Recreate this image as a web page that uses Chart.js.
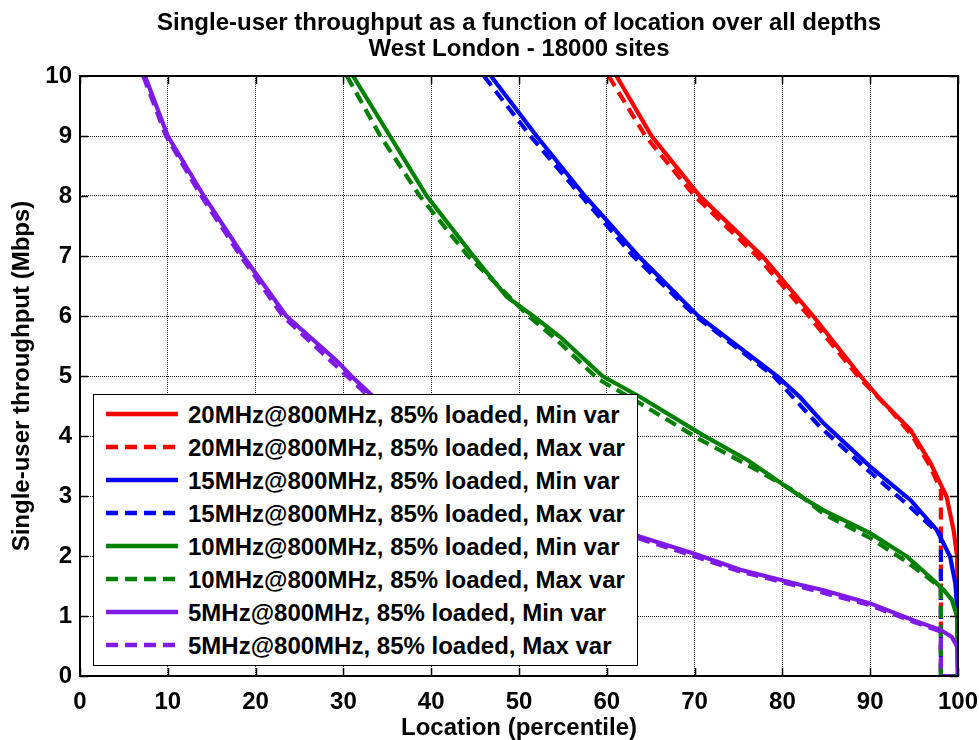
<!DOCTYPE html>
<html><head><meta charset="utf-8">
<script src="https://cdn.jsdelivr.net/npm/chart.js@4.4.0/dist/chart.umd.min.js"></script>
<style>
html,body{margin:0;padding:0;background:#fff;}
#wrap{position:relative;width:979px;height:740px;}
#legend{position:absolute;left:93px;top:394px;width:545px;height:272px;box-sizing:border-box;border:1.5px solid #000;background:#fff;font:bold 24px "Liberation Sans",Arial,Helvetica,sans-serif;color:#000;}
.row{position:absolute;left:0;height:33px;white-space:nowrap;}
.row svg{position:absolute;left:12px;top:11px;}
.row span{position:absolute;left:94px;line-height:33px;top:0;}
</style></head>
<body><div id="wrap"><canvas id="c" width="979" height="740"></canvas><div id="legend"></div></div>
<script>
// ---- data ----
const titleLines = ['Single-user throughput as a function of location over all depths', 'West London - 18000 sites'];
const xTitle = 'Location (percentile)';
const yTitle = 'Single-user throughput (Mbps)';
const xTicks = [0, 10, 20, 30, 40, 50, 60, 70, 80, 90, 100];
const yTicks = [0, 1, 2, 3, 4, 5, 6, 7, 8, 9, 10];
const seriesLabels = [
  '20MHz@800MHz, 85% loaded, Min var',
  '20MHz@800MHz, 85% loaded, Max var',
  '15MHz@800MHz, 85% loaded, Min var',
  '15MHz@800MHz, 85% loaded, Max var',
  '10MHz@800MHz, 85% loaded, Min var',
  '10MHz@800MHz, 85% loaded, Max var',
  '5MHz@800MHz, 85% loaded, Min var',
  '5MHz@800MHz, 85% loaded, Max var'
];
// location (percentile) and throughput (Mbps) per series
const loc20Min = [61.1, 65.1, 70.6, 77.7, 83.5, 88.9, 91.1, 94.6, 96.9, 98.7, 99.5, 99.9, 100];
const thr20Min = [10, 9, 8, 7, 6, 5, 4.62, 4.1, 3.54, 2.99, 2.43, 1.99, 0];
const loc20Max = [60.2, 64.4, 70.0, 77.1, 83.0, 88.6, 92.3, 94.8, 96.8, 98.05, 98.05, 100];
const thr20Max = [10, 9, 8, 7, 6, 5, 4.43, 4.0, 3.5, 3.1, 0, 0];
const loc15Min = [46.8, 52.0, 57.5, 63.6, 70.4, 79.4, 82.0, 84.7, 90.0, 94.6, 97.6, 99.1, 99.7, 99.95, 100];
const thr15Min = [10, 9, 8, 7, 6, 5, 4.65, 4.21, 3.49, 2.93, 2.43, 1.99, 1.54, 1.0, 0];
const loc15Max = [46.0, 51.3, 57.1, 63.0, 70.1, 79.0, 84.3, 89.8, 94.3, 96.9, 98.05, 98.05, 100];
const thr15Max = [10, 9, 8, 7, 6, 5, 4.15, 3.42, 2.85, 2.5, 2.35, 0, 0];
const loc10Min = [31.1, 35.3, 39.5, 44.8, 48.6, 51.6, 54.7, 59.5, 63.8, 71.0, 76.0, 82.0, 84.7, 90.0, 94.2, 96.8, 98.4, 99.3, 99.9, 100];
const thr10Min = [10, 9, 8, 7, 6.32, 6, 5.65, 5.0, 4.65, 4.01, 3.6, 3.0, 2.76, 2.38, 1.99, 1.65, 1.43, 1.27, 0.99, 0];
const loc10Max = [30.4, 34.2, 38.7, 44.2, 51.1, 54.3, 59.0, 63.5, 70.5, 76.0, 81.5, 84.7, 90.0, 94.0, 96.5, 98.05, 98.05, 100];
const thr10Max = [10, 9, 8, 7, 6, 5.6, 4.95, 4.57, 3.95, 3.52, 3.07, 2.7, 2.3, 1.92, 1.65, 1.47, 0, 0];
const loc5Min = [7.4, 10.0, 14.1, 18.6, 23.5, 29.2, 30.9, 33.0, 36, 40, 45, 50, 55, 60, 63.8, 69.9, 75.2, 82.0, 84.7, 90.0, 94.9, 98.0, 99.3, 99.9, 100];
const thr5Min = [10, 9, 8, 7, 6, 5.26, 5.0, 4.71, 4.35, 3.95, 3.5, 3.1, 2.8, 2.52, 2.32, 2.04, 1.77, 1.52, 1.43, 1.21, 0.93, 0.77, 0.65, 0.49, 0];
const loc5Max = [7.2, 9.8, 13.8, 18.3, 23.1, 30.4, 32.6, 36, 40, 45, 50, 55, 60, 63.5, 69.5, 75.0, 82.0, 90.0, 95.0, 98.05, 98.05, 100];
const thr5Max = [10, 9, 8, 7, 6, 5.0, 4.7, 4.3, 3.9, 3.45, 3.07, 2.77, 2.5, 2.3, 2.02, 1.75, 1.49, 1.18, 0.9, 0.74, 0, 0];

// ---- styles ----
const seriesColors = ['#FF0000', '#FF0000', '#0000FF', '#0000FF', '#008000', '#008000', 'rgb(127,26,230)', 'rgb(127,26,230)'];
const seriesDashed = [false, true, false, true, false, true, false, true];
const DASH = [12, 7];
const LW = 4.2;
const FONT = '"Liberation Sans", Arial, Helvetica, sans-serif';

const locs = [loc20Min, loc20Max, loc15Min, loc15Max, loc10Min, loc10Max, loc5Min, loc5Max];
const thrs = [thr20Min, thr20Max, thr15Min, thr15Max, thr10Min, thr10Max, thr5Min, thr5Max];
const datasets = seriesLabels.map((lab, i) => ({
  label: lab,
  data: locs[i].map((x, k) => ({x: x, y: thrs[i][k]})),
  borderColor: seriesColors[i],
  backgroundColor: seriesColors[i],
  borderWidth: LW,
  borderDash: seriesDashed[i] ? DASH : [],
  pointRadius: 0,
  tension: 0,
  fill: false,
  order: seriesLabels.length - i
}));

const framePlugin = {
  id: 'frame',
  afterDraw(chart) {
    const {ctx, chartArea: a, scales: {x, y}} = chart;
    ctx.save();
    ctx.strokeStyle = '#000';
    ctx.lineWidth = 1.5;
    ctx.beginPath();
    xTicks.forEach(v => {
      const px = Math.round(x.getPixelForValue(v)) + 0.5;
      ctx.moveTo(px, a.bottom); ctx.lineTo(px, a.bottom - 8);
      ctx.moveTo(px, a.top); ctx.lineTo(px, a.top + 8);
    });
    yTicks.forEach(v => {
      const py = Math.round(y.getPixelForValue(v)) + 0.5;
      ctx.moveTo(a.left, py); ctx.lineTo(a.left + 8, py);
      ctx.moveTo(a.right, py); ctx.lineTo(a.right - 8, py);
    });
    ctx.stroke();
    ctx.lineWidth = 2;
    ctx.strokeRect(a.left, a.top, a.right - a.left, a.bottom - a.top);
    ctx.restore();
  }
};

Chart.defaults.font.family = FONT;
Chart.defaults.font.weight = 'bold';
Chart.defaults.font.size = 24;
Chart.defaults.color = '#000';

new Chart(document.getElementById('c'), {
  type: 'line',
  data: {datasets: datasets},
  options: {
    responsive: false,
    animation: false,
    devicePixelRatio: 1,
    layout: {padding: {left: 0, right: 21, top: 0, bottom: 0}},
    plugins: {
      legend: {display: false},
      tooltip: {enabled: false},
      title: {
        display: true,
        fullSize: false,
        text: titleLines,
        font: {size: 24, weight: 'bold', family: FONT, lineHeight: 1.1},
        color: '#000',
        padding: {top: 10, bottom: 13.2}
      }
    },
    scales: {
      x: {
        type: 'linear', min: 0, max: 100,
        afterBuildTicks: s => { s.ticks = xTicks.map(v => ({value: v})); },
        afterFit: s => { s.height = 64; s.paddingLeft = 0; s.paddingRight = 0; },
        grid: {color: '#222', lineWidth: 1, drawTicks: false},
        border: {display: false, dash: [1, 1]},
        ticks: {padding: 12, font: {size: 24, weight: 'bold', family: FONT}, color: '#000', maxRotation: 0, autoSkip: false},
        title: {display: true, text: xTitle, font: {size: 24, weight: 'bold', family: FONT, lineHeight: 1}, color: '#000', padding: {top: 0, bottom: 0}}
      },
      y: {
        type: 'linear', min: 0, max: 10,
        afterBuildTicks: s => { s.ticks = yTicks.map(v => ({value: v})); },
        afterFit: s => { s.width = 80; },
        grid: {color: '#222', lineWidth: 1, drawTicks: false},
        border: {display: false, dash: [1, 1]},
        ticks: {padding: 8, font: {size: 24, weight: 'bold', family: FONT}, color: '#000', autoSkip: false},
        title: {display: true, text: yTitle, font: {size: 24, weight: 'bold', family: FONT, lineHeight: 1}, color: '#000', padding: {top: 10, bottom: 0}}
      }
    }
  },
  plugins: [framePlugin]
});

// ---- legend built from the datasets ----
const leg = document.getElementById('legend');
seriesLabels.forEach((lab, i) => {
  const row = document.createElement('div');
  row.className = 'row';
  row.style.top = (3 + i * 33) + 'px';
  row.style.width = '540px';
  const dash = seriesDashed[i] ? ' stroke-dasharray="' + DASH.join(' ') + '"' : '';
  row.innerHTML = '<svg width="72" height="10"><line x1="0" y1="5" x2="72" y2="5" stroke="' + seriesColors[i] + '" stroke-width="4.5"' + dash + '/></svg>';
  const sp = document.createElement('span');
  sp.textContent = lab;
  row.appendChild(sp);
  leg.appendChild(row);
});
</script>
</body></html>
